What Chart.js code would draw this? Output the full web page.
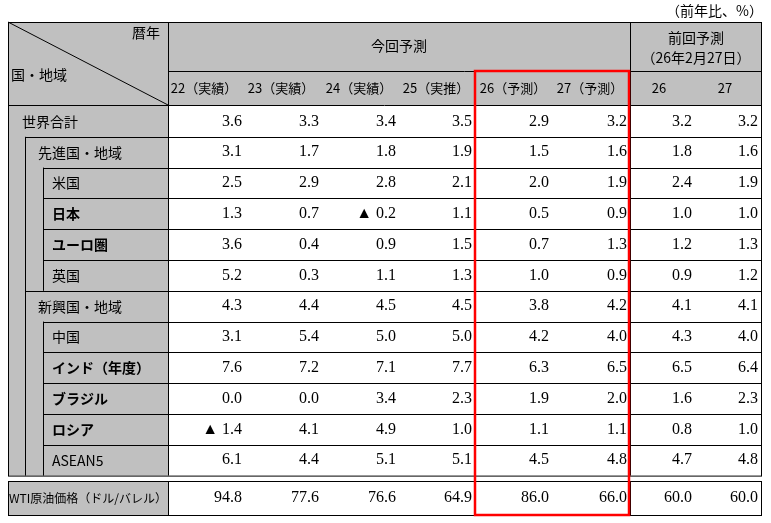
<!DOCTYPE html>
<html><head><meta charset="utf-8">
<script src="https://cdn.jsdelivr.net/npm/chart.js@4"></script>
<style>body{margin:0;background:#fff}canvas{display:block}</style>
</head><body>
<canvas id="c" width="771" height="523"></canvas>
<script>
const categories=["世界合計","先進国・地域","米国","日本","ユーロ圏","英国","新興国・地域","中国","インド（年度）","ブラジル","ロシア","ASEAN5"];
const levels=[0,1,2,2,2,2,1,2,2,2,2,2];
const boldRows=[false,false,false,true,true,false,false,false,true,true,true,false];
const columnLabels=["22（実績）","23（実績）","24（実績）","25（実推）","26（予測）","27（予測）","26","27"];
const y22=["3.6","3.1","2.5","1.3","3.6","5.2","4.3","3.1","7.6","0.0","▲ 1.4","6.1"];
const y23=["3.3","1.7","2.9","0.7","0.4","0.3","4.4","5.4","7.2","0.0","4.1","4.4"];
const y24=["3.4","1.8","2.8","▲ 0.2","0.9","1.1","4.5","5.0","7.1","3.4","4.9","5.1"];
const y25=["3.5","1.9","2.1","1.1","1.5","1.3","4.5","5.0","7.7","2.3","1.0","5.1"];
const f26=["2.9","1.5","2.0","0.5","0.7","1.0","3.8","4.2","6.3","1.9","1.1","4.5"];
const f27=["3.2","1.6","1.9","0.9","1.3","0.9","4.2","4.0","6.5","2.0","1.1","4.8"];
const p26=["3.2","1.8","2.4","1.0","1.2","0.9","4.1","4.3","6.5","1.6","0.8","4.7"];
const p27=["3.2","1.6","1.9","1.0","1.3","1.2","4.1","4.0","6.4","2.3","1.0","4.8"];
const wtiLabel="WTI原油価格（ドル/バレル）";
const wti=["94.8","77.6","76.6","64.9","86.0","66.0","60.0","60.0"];
const series=[y22,y23,y24,y25,f26,f27,p26,p27];

const colEdges=[168,245,322,399,475,552,630,695,761];
const rowTop=106,rowH=30.8;

const tablePlugin={id:'table',afterDraw(chart){
  const ctx=chart.ctx,X=v=>chart.scales.x.getPixelForValue(v),Y=v=>chart.scales.y.getPixelForValue(v);
  const L=X(8),R=X(761),T=Y(22),HB=Y(105),SH=Y(71),LC=X(168);
  const nRows=categories.length, bottom=Y(rowTop+rowH*nRows);
  const gray='#c0c0c0';
  ctx.save();
  ctx.fillStyle=gray;
  ctx.fillRect(L,T,R-L,HB-T);
  ctx.fillRect(L,HB,LC-L,bottom-HB);
  const wT=Y(481),wB=Y(515);
  ctx.fillRect(L,wT,LC-L,wB-wT);
  ctx.strokeStyle='#000';ctx.lineWidth=1;
  const line=(a,b,c,d)=>{ctx.beginPath();ctx.moveTo(a,b);ctx.lineTo(c,d);ctx.stroke();};
  ctx.strokeRect(L+0.5,T+0.5,R-L,bottom-T);
  line(LC+0.5,T,LC+0.5,bottom);
  line(X(630)+0.5,T,X(630)+0.5,bottom);
  line(LC,SH+0.5,R,SH+0.5);
  line(L,HB+0.5,R,HB+0.5);
  line(L,T,LC,HB);
  const indentX=[8,25,43];
  for(let i=0;i<nRows;i++){
    const yt=Y(rowTop+rowH*i);
    if(i>0){line(X(indentX[levels[i]]),Math.round(yt)+0.5,R,Math.round(yt)+0.5);}
  }
  line(X(25)+0.5,Y(rowTop+rowH),X(25)+0.5,bottom);
  line(X(43)+0.5,Y(rowTop+rowH*2),X(43)+0.5,Y(rowTop+rowH*6));
  line(X(43)+0.5,Y(rowTop+rowH*7),X(43)+0.5,bottom);
  ctx.strokeRect(L+0.5,wT+0.5,R-L,wB-wT);
  line(LC+0.5,wT,LC+0.5,wB);line(X(630)+0.5,wT,X(630)+0.5,wB);
  const jp='"Noto Sans CJK JP", sans-serif';
  ctx.fillStyle='#000';ctx.textBaseline='middle';
  ctx.font='14px '+jp;
  ctx.textAlign='right';ctx.fillText('暦年',X(160),Y(33));
  ctx.textAlign='left';ctx.fillText('国・地域',X(11),Y(75));
  ctx.textAlign='center';
  ctx.fillText('今回予測',X(399),Y(46));
  ctx.fillText('前回予測',X(696),Y(38));
  ctx.fillText('（26年2月27日）',X(696),Y(58));
  ctx.textAlign='right';ctx.fillText('（前年比、%）',X(763),Y(11));
  ctx.textAlign='center';
  ctx.font='13px '+jp;
  const subCenters=[204,281,359,436,513,590,659,725];
  columnLabels.forEach((t,j)=>ctx.fillText(t,X(subCenters[j]),Y(88)));
  const serif='16px "Liberation Serif", serif';
  for(let i=0;i<nRows;i++){
    const yc=Y(rowTop+rowH*i+rowH/2);
    ctx.textAlign='left';
    ctx.font=(boldRows[i]?'bold ':'')+'14px '+jp;
    ctx.fillText(categories[i],X([22,38,52][levels[i]]),yc);
    ctx.font=serif;ctx.textAlign='right';
    series.forEach((s,j)=>ctx.fillText(s[i],X(colEdges[j+1]-3),yc));
  }
  const wc=(wT+wB)/2;
  ctx.font='12px '+jp;ctx.textAlign='left';ctx.fillText(wtiLabel,X(9),wc);
  ctx.font=serif;ctx.textAlign='right';
  wti.forEach((v,j)=>ctx.fillText(v,X(colEdges[j+1]-3),wc));
  ctx.strokeStyle='#ff0000';ctx.lineWidth=2.5;
  ctx.strokeRect(X(475),Y(71),X(629)-X(475),Y(515)-Y(71));
  ctx.restore();
}};
new Chart(document.getElementById('c'),{type:'scatter',
  data:{datasets:[{data:[],showLine:false}]},
  options:{responsive:false,animation:false,events:[],layout:{padding:0},
    plugins:{legend:{display:false},tooltip:{enabled:false}},
    scales:{x:{type:'linear',min:0,max:771,display:false},
            y:{type:'linear',min:0,max:523,reverse:true,display:false}}},
  plugins:[tablePlugin]});
</script></body></html>
